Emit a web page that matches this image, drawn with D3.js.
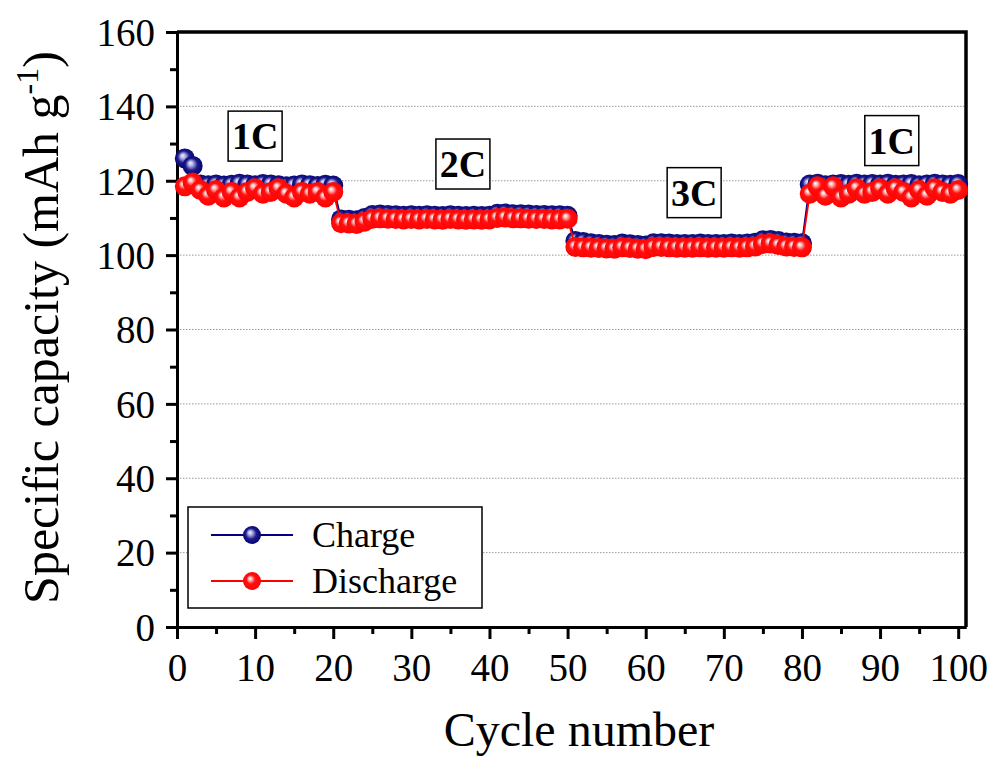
<!DOCTYPE html>
<meta charset="utf-8">
<style>
body { margin: 0; background: #fff; }
svg { font-family: "Liberation Serif", "Times New Roman", serif; }
.grid line { stroke: #999; stroke-width: 1px; stroke-dasharray: 1.5,1.5; }
.axis path, .axis line { stroke: #000; }
</style>
<svg width="1000" height="764"></svg>
<script src="https://d3js.org/d3.v7.min.js"></script>
<script>
// cycle numbers 1..100
var cycles = d3.range(1, 101);

var charge = [
  126, 124, 119, 118.8, 119, 118.7, 118.9, 119.2, 119, 118.8,
  119.1, 119, 118.8, 118.5, 118.7, 119, 118.8, 118.6, 118.9, 118.7,
  109.6, 109.5, 109.4, 110, 110.8, 110.9, 110.8, 110.7, 110.6, 110.7,
  110.6, 110.7, 110.6, 110.5, 110.7, 110.6, 110.5, 110.6, 110.5, 110.6,
  111.1, 111.2, 111, 111, 110.9, 110.8, 110.8, 110.7, 110.7, 110.6,
  103.8, 103.5, 103.2, 103, 102.8, 102.7, 103.1, 102.9, 102.7, 102.6,
  103.2, 103.2, 103.1, 103, 103, 103, 103.1, 103, 103, 103,
  103.1, 103, 103.1, 103.3, 104, 104.1, 103.8, 103.4, 103.3, 103.2,
  119, 119.2, 118.8, 119, 119.1, 118.9, 119.2, 119, 119.1, 119,
  119.2, 118.9, 119, 119.1, 118.8, 119, 119.2, 119, 118.9, 119.1
];

var discharge = [
  118.5, 119.5, 117.5, 116, 117.5, 115.5, 117, 115.5, 117, 118,
  116.5, 117, 118, 116.5, 115.5, 117, 116.5, 117, 115.5, 117,
  108.6, 108.5, 108.4, 109, 109.8, 109.9, 109.8, 109.7, 109.6, 109.7,
  109.6, 109.7, 109.6, 109.5, 109.7, 109.6, 109.5, 109.6, 109.5, 109.6,
  110, 110.1, 109.9, 109.9, 109.8, 109.7, 109.7, 109.6, 109.6, 109.8,
  102.2, 102.1, 102, 101.9, 101.8, 101.7, 102.1, 101.9, 101.7, 101.6,
  102.2, 102.2, 102.1, 102, 102, 102, 102.1, 102, 102, 102,
  102.1, 102, 102.1, 102.3, 103, 103.1, 102.7, 102.3, 102.2, 102.1,
  116.5, 118.5, 116, 118.5, 115.5, 116.5, 118, 116.5, 117, 118,
  116.5, 118, 117, 115.5, 117.5, 116, 118, 117, 116.5, 117.5
];

var xTicks = [0, 10, 20, 30, 40, 50, 60, 70, 80, 90, 100];
var yTicks = [0, 20, 40, 60, 80, 100, 120, 140, 160];

// rate labels: [text, cycle, capacity]
var rateLabels = [
  ["1C", 10, 132],
  ["2C", 36.6, 124.5],
  ["3C", 66.2, 116.8],
  ["1C", 91.5, 130.8]
];

var svg = d3.select("svg");
var plotL = 177, plotR = 966, plotT = 32, plotB = 627;

var x = d3.scaleLinear().domain([0, 101]).range([plotL, plotR]);
var y = d3.scaleLinear().domain([0, 160]).range([plotB, plotT]);

// gradients for the ball markers
var defs = svg.append("defs");
function ball(id, stops) {
  var g = defs.append("radialGradient").attr("id", id)
    .attr("cx", "50%").attr("cy", "50%").attr("r", "55%")
    .attr("fx", "38%").attr("fy", "35%");
  stops.forEach(function(s) {
    g.append("stop").attr("offset", s[0]).attr("stop-color", s[1]);
  });
}
ball("blueBall", [["0%", "#f4f4ff"], ["22%", "#b0b0e0"], ["55%", "#1a1a8c"], ["100%", "#000070"]]);
ball("redBall", [["0%", "#ffffff"], ["16%", "#ffc0c0"], ["45%", "#ff1010"], ["100%", "#ff0000"]]);

// grid lines
svg.append("g").attr("class", "grid")
  .selectAll("line")
  .data(yTicks.filter(function(t) { return t > 0 && t < 160; }))
  .enter().append("line")
  .attr("x1", plotL).attr("x2", plotR)
  .attr("y1", function(d) { return y(d); })
  .attr("y2", function(d) { return y(d); });

// frame top + right
svg.append("path")
  .attr("d", "M" + plotL + "," + plotT + "H" + plotR + "V" + plotB)
  .attr("fill", "none").attr("stroke", "#000").attr("stroke-width", 3.5);

// axes
var xAxis = svg.append("g").attr("class", "axis")
  .attr("transform", "translate(0," + plotB + ")")
  .call(d3.axisBottom(x).tickValues(d3.range(5, 101, 10)).tickSize(7).tickSizeOuter(0).tickFormat(""));
xAxis.append("g")
  .call(d3.axisBottom(x).tickValues(xTicks).tickSize(12).tickSizeOuter(0).tickPadding(14));
var yAxis = svg.append("g").attr("class", "axis")
  .attr("transform", "translate(" + plotL + ",0)")
  .call(d3.axisLeft(y).tickValues(d3.range(10, 160, 20)).tickSize(7).tickSizeOuter(0).tickFormat(""));
yAxis.append("g")
  .call(d3.axisLeft(y).tickValues(yTicks).tickSize(11).tickSizeOuter(0).tickPadding(11));

svg.selectAll(".axis path").attr("stroke-width", 3);
svg.selectAll(".axis line").attr("stroke-width", 3);
svg.selectAll(".axis g").attr("font-family", null).attr("font-size", null);
svg.selectAll(".axis text")
  .attr("font-family", "Liberation Serif").attr("font-size", 39).attr("fill", "#000");
yAxis.selectAll("text").attr("dy", "0.34em");

// series
var series = [
  { name: "Charge", values: charge, color: "#000080", grad: "url(#blueBall)" },
  { name: "Discharge", values: discharge, color: "#ff0000", grad: "url(#redBall)" }
];

var line = d3.line()
  .x(function(d, i) { return x(cycles[i]); })
  .y(function(d) { return y(d); });

series.forEach(function(s) {
  var g = svg.append("g");
  g.append("path").datum(s.values)
    .attr("d", line).attr("fill", "none")
    .attr("stroke", s.color).attr("stroke-width", 1.8);
  g.selectAll("circle").data(s.values).enter().append("circle")
    .attr("cx", function(d, i) { return x(cycles[i]); })
    .attr("cy", function(d) { return y(d); })
    .attr("r", 10)
    .attr("fill", s.grad);
});

// rate labels in boxes
rateLabels.forEach(function(r) {
  var cx = x(r[1]), cy = y(r[2]);
  svg.append("rect")
    .attr("x", cx - 27).attr("y", cy - 25)
    .attr("width", 54).attr("height", 50)
    .attr("fill", "#fff").attr("stroke", "#000").attr("stroke-width", 1.5);
  svg.append("text")
    .attr("x", cx).attr("y", cy + 13)
    .attr("text-anchor", "middle")
    .attr("font-weight", "bold").attr("font-size", 38)
    .text(r[0]);
});

// legend
var legend = svg.append("g");
legend.append("rect")
  .attr("x", 188).attr("y", 507).attr("width", 294).attr("height", 101)
  .attr("fill", "#fff").attr("stroke", "#000").attr("stroke-width", 1.5);
series.forEach(function(s, i) {
  var ly = 535 + i * 46;
  legend.append("line")
    .attr("x1", 211).attr("x2", 293).attr("y1", ly).attr("y2", ly)
    .attr("stroke", s.color).attr("stroke-width", 1.8);
  legend.append("circle")
    .attr("cx", 252).attr("cy", ly).attr("r", 9).attr("fill", s.grad);
  legend.append("text")
    .attr("x", 312).attr("y", ly + 12)
    .attr("font-size", 36)
    .text(s.name);
});

// axis titles
svg.append("text")
  .attr("x", 579).attr("y", 746)
  .attr("text-anchor", "middle").attr("font-size", 48)
  .text("Cycle number");

var yt = svg.append("text")
  .attr("transform", "translate(58," + ((plotT + plotB) / 2 - 2) + ") rotate(-90)")
  .attr("text-anchor", "middle").attr("font-size", 50);
yt.append("tspan").text("Specific capacity (mAh g");
yt.append("tspan").attr("dy", -20).attr("font-size", 32).text("-1");
yt.append("tspan").attr("dy", 20).text(")");
</script>
